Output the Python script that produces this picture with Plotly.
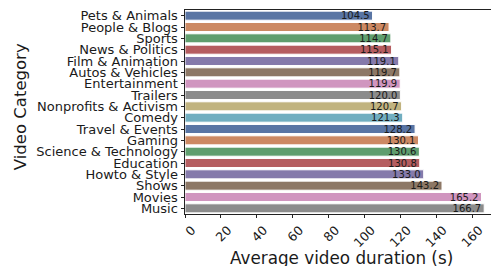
import plotly.graph_objects as go

categories = ["Pets & Animals", "People & Blogs", "Sports", "News & Politics", "Film & Animation",
              "Autos & Vehicles", "Entertainment", "Trailers", "Nonprofits & Activism", "Comedy",
              "Travel & Events", "Gaming", "Science & Technology", "Education", "Howto & Style",
              "Shows", "Movies", "Music"]
durations = [104.5, 113.7, 114.7, 115.1, 119.1, 119.7, 119.9, 120.0, 120.7, 121.3,
             128.2, 130.1, 130.6, 130.8, 133.0, 143.2, 165.2, 166.7]
palette = ["#5975A4", "#CC8963", "#5F9E6E", "#B55D60", "#857AAB", "#8D7866", "#D095BF",
           "#8C8C8C", "#C1B37F", "#71AEC0"]
x_ticks = [0, 20, 40, 60, 80, 100, 120, 140, 160]

colors = [palette[i % len(palette)] for i in range(len(categories))]

fig = go.Figure(go.Bar(
    x=durations, y=categories, orientation="h",
    marker=dict(color=colors, line=dict(color="white", width=1)),
    text=[f"{v:.1f}" for v in durations],
    textposition="inside", insidetextanchor="end", textangle=0,
    constraintext="none",
    textfont=dict(family="DejaVu Sans", size=10, color="#1a1a1a"),
    cliponaxis=False,
    hoverinfo="skip",
))

fig.update_layout(
    width=491, height=266,
    margin=dict(l=185, r=0, t=10, b=52),
    paper_bgcolor="white", plot_bgcolor="white",
    bargap=0.2, showlegend=False,
    font=dict(family="DejaVu Sans", color="#1a1a1a"),
    xaxis=dict(range=[0, 170.5], tickvals=x_ticks, tickangle=-45, automargin=False,
               ticklabelshift=7,
               showgrid=False, zeroline=False, showline=True, linecolor="#222",
               linewidth=1, mirror=True, ticks="outside", ticklen=3, tickcolor="#222",
               tickfont=dict(size=12.5)),
    yaxis=dict(tickmode="array", tickvals=categories, ticktext=categories,
               categoryorder="array", categoryarray=categories, autorange="reversed",
               automargin=False,
               showgrid=False, zeroline=False, showline=True, linecolor="#222", linewidth=1,
               ticks="outside", ticklen=3.5, tickcolor="#222", tickfont=dict(size=13)),
    annotations=[
        dict(text="Average video duration (s)", xref="paper", yref="paper", x=0.51, y=-0.215,
             xanchor="center", yanchor="middle", showarrow=False, font=dict(size=16.8)),
        dict(text="Video Category", xref="paper", yref="paper", x=-0.535, y=0.525, textangle=-90,
             xanchor="center", yanchor="middle", showarrow=False, font=dict(size=16.5)),
    ],
)

fig.write_html("out.html", config={"displayModeBar": False},
               post_script="document.body.style.margin='0';document.body.style.overflow='hidden';")
